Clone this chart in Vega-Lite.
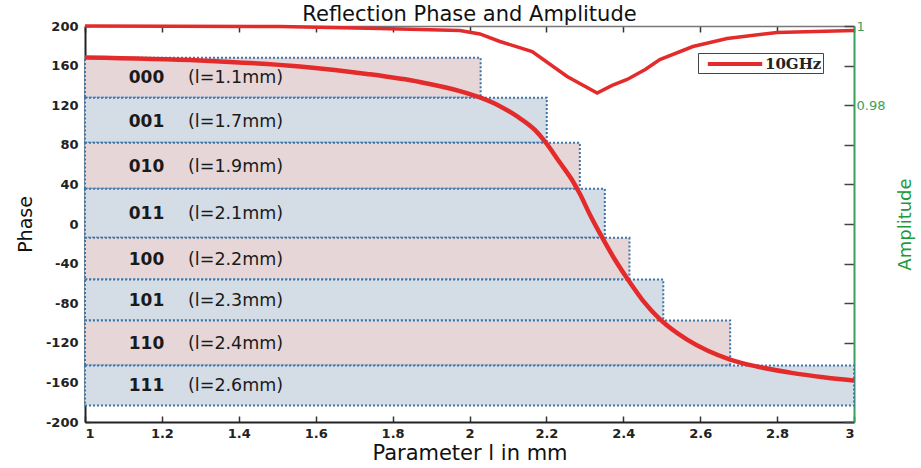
{
  "$schema": "https://vega.github.io/schema/vega-lite/v6.json",
  "width": 769,
  "height": 396,
  "autosize": {"type": "none"},
  "padding": {"left": 85, "top": 26, "right": 67, "bottom": 46},
  "background": "white",
  "title": {"text": "Reflection Phase and Amplitude", "font": "DejaVu Sans", "fontSize": 21, "fontWeight": "normal", "color": "#111", "anchor": "middle", "offset": -6},
  "config": {"view": {"stroke": null}, "font": "DejaVu Sans", "axis": {"labelOverlap": false, "labelBound": false}},
  "datasets": {
    "bands": [
      {"code": "000", "length": "(l=1.1mm)", "xmin": 1, "xmax": 2.029, "lo": 127.5, "hi": 167.9, "mid": 147, "tone": "pink"},
      {"code": "001", "length": "(l=1.7mm)", "xmin": 1, "xmax": 2.201, "lo": 82.0, "hi": 127.5, "mid": 103.5, "tone": "blue"},
      {"code": "010", "length": "(l=1.9mm)", "xmin": 1, "xmax": 2.287, "lo": 35.6, "hi": 82.0, "mid": 58, "tone": "pink"},
      {"code": "011", "length": "(l=2.1mm)", "xmin": 1, "xmax": 2.352, "lo": -14.0, "hi": 35.6, "mid": 10, "tone": "blue"},
      {"code": "100", "length": "(l=2.2mm)", "xmin": 1, "xmax": 2.416, "lo": -56.1, "hi": -14.0, "mid": -36, "tone": "pink"},
      {"code": "101", "length": "(l=2.3mm)", "xmin": 1, "xmax": 2.504, "lo": -97.5, "hi": -56.1, "mid": -77.5, "tone": "blue"},
      {"code": "110", "length": "(l=2.4mm)", "xmin": 1, "xmax": 2.678, "lo": -143.0, "hi": -97.5, "mid": -121, "tone": "pink"},
      {"code": "111", "length": "(l=2.6mm)", "xmin": 1, "xmax": 3.0, "lo": -183.4, "hi": -143.0, "mid": -163.5, "tone": "blue"}
    ],
    "phase": [
      {"l": 1.000, "phase": 168.2, "series": "10GHz"},
      {"l": 1.299, "phase": 165.2, "series": "10GHz"},
      {"l": 1.559, "phase": 159.1, "series": "10GHz"},
      {"l": 1.733, "phase": 151.6, "series": "10GHz"},
      {"l": 1.871, "phase": 143.4, "series": "10GHz"},
      {"l": 1.975, "phase": 134.3, "series": "10GHz"},
      {"l": 2.027, "phase": 127.8, "series": "10GHz"},
      {"l": 2.079, "phase": 119.0, "series": "10GHz"},
      {"l": 2.124, "phase": 108.6, "series": "10GHz"},
      {"l": 2.170, "phase": 95.0, "series": "10GHz"},
      {"l": 2.196, "phase": 83.5, "series": "10GHz"},
      {"l": 2.235, "phase": 62.1, "series": "10GHz"},
      {"l": 2.266, "phase": 44.9, "series": "10GHz"},
      {"l": 2.287, "phase": 30.5, "series": "10GHz"},
      {"l": 2.313, "phase": 9.6, "series": "10GHz"},
      {"l": 2.345, "phase": -13.6, "series": "10GHz"},
      {"l": 2.378, "phase": -35.9, "series": "10GHz"},
      {"l": 2.412, "phase": -56.1, "series": "10GHz"},
      {"l": 2.451, "phase": -77.3, "series": "10GHz"},
      {"l": 2.495, "phase": -96.0, "series": "10GHz"},
      {"l": 2.566, "phase": -116.7, "series": "10GHz"},
      {"l": 2.620, "phase": -128.0, "series": "10GHz"},
      {"l": 2.678, "phase": -136.9, "series": "10GHz"},
      {"l": 2.748, "phase": -144.0, "series": "10GHz"},
      {"l": 2.834, "phase": -150.1, "series": "10GHz"},
      {"l": 2.920, "phase": -154.8, "series": "10GHz"},
      {"l": 3.000, "phase": -158.2, "series": "10GHz"}
    ],
    "amp": [
      {"l": 1.000, "amp": 1.0},
      {"l": 1.507, "amp": 0.99987},
      {"l": 1.767, "amp": 0.99937},
      {"l": 1.975, "amp": 0.99886},
      {"l": 2.027, "amp": 0.99800},
      {"l": 2.079, "amp": 0.99609},
      {"l": 2.163, "amp": 0.99356},
      {"l": 2.254, "amp": 0.98725},
      {"l": 2.332, "amp": 0.98308},
      {"l": 2.371, "amp": 0.98500},
      {"l": 2.410, "amp": 0.98650},
      {"l": 2.457, "amp": 0.98900},
      {"l": 2.495, "amp": 0.99154},
      {"l": 2.581, "amp": 0.99482},
      {"l": 2.670, "amp": 0.99684},
      {"l": 2.800, "amp": 0.99836},
      {"l": 3.000, "amp": 0.99886}
    ]
  },
  "layer": [
    {
      "layer": [
        {
          "data": {"name": "bands"},
          "mark": {"type": "rect", "stroke": "#3d76a9", "strokeWidth": 2, "strokeDash": [2, 2]},
          "encoding": {
            "x": {"field": "xmin", "type": "quantitative", "scale": {"domain": [1, 3], "nice": false, "zero": false},
              "axis": {"orient": "bottom", "values": [1, 1.2, 1.4, 1.6, 1.8, 2, 2.2, 2.4, 2.6, 2.8, 3], "tickCount": 30, "format": "~g", "grid": false,
                "domainColor": "#222", "domainWidth": 2, "tickColor": "#333", "tickWidth": 1.5, "tickSize": -6, "labelPadding": 11,
                "labelFont": "DejaVu Sans", "labelFontWeight": "bold", "labelFontSize": 13, "labelColor": "#222",
                "title": "Parameter l in mm", "titleFont": "DejaVu Sans", "titleFontSize": 21, "titleFontWeight": "normal", "titleColor": "#111", "titlePadding": 2}},
            "x2": {"field": "xmax"},
            "y": {"field": "lo", "type": "quantitative", "scale": {"domain": [-200, 200], "nice": false},
              "axis": {"orient": "left", "values": [-200, -160, -120, -80, -40, 0, 40, 80, 120, 160, 200], "tickCount": 30, "grid": false,
                "labelExpr": "toString(datum.value)",
                "domainColor": "#222", "domainWidth": 2, "tickColor": "#333", "tickWidth": 1.5, "tickSize": -5, "labelPadding": 12,
                "labelFont": "DejaVu Sans", "labelFontWeight": "bold", "labelFontSize": 13, "labelColor": "#222",
                "title": "Phase", "titleFont": "DejaVu Sans", "titleFontSize": 19, "titleFontWeight": "normal", "titleColor": "#111", "titlePadding": 10}},
            "y2": {"field": "hi"},
            "fill": {"field": "tone", "type": "nominal", "scale": {"domain": ["pink", "blue"], "range": ["#e6d6d8", "#d4dce6"]}, "legend": null}
          }
        },
        {
          "data": {"name": "bands"},
          "mark": {"type": "text", "font": "DejaVu Sans", "fontWeight": "bold", "fontSize": 17, "align": "center", "baseline": "middle", "color": "#1a1a1a"},
          "encoding": {
            "x": {"datum": 1.16, "type": "quantitative"},
            "y": {"field": "mid", "type": "quantitative"},
            "text": {"field": "code"}
          }
        },
        {
          "data": {"name": "bands"},
          "mark": {"type": "text", "font": "DejaVu Sans", "fontSize": 17.5, "align": "left", "baseline": "middle", "color": "#1a1a1a"},
          "encoding": {
            "x": {"datum": 1.268, "type": "quantitative"},
            "y": {"field": "mid", "type": "quantitative"},
            "text": {"field": "length"}
          }
        },
        {
          "data": {"name": "phase"},
          "mark": {"type": "line", "strokeWidth": 4.5, "interpolate": "monotone"},
          "encoding": {
            "x": {"field": "l", "type": "quantitative"},
            "y": {"field": "phase", "type": "quantitative"},
            "color": {"field": "series", "type": "nominal", "scale": {"domain": ["10GHz"], "range": ["#e42b2b"]},
              "legend": {"orient": "none", "legendX": 613, "legendY": 27, "title": null, "symbolType": "M-3.4,0H3.4", "symbolSize": 256, "symbolStrokeWidth": 4,
                "symbolOffset": 26, "labelOffset": 20,
                "labelFont": "DejaVu Serif", "labelFontWeight": "bold", "labelFontSize": 15, "labelColor": "#222",
                "strokeColor": "#444", "fillColor": "white", "padding": 1}}
          }
        }
      ]
    },
    {
      "data": {"name": "amp"},
      "mark": {"type": "line", "strokeWidth": 3.5, "color": "#e42b2b"},
      "encoding": {
        "x": {"field": "l", "type": "quantitative",
          "axis": {"orient": "top", "values": [1, 1.2, 1.4, 1.6, 1.8, 2, 2.2, 2.4, 2.6, 2.8, 3], "tickCount": 30, "labels": false, "grid": false, "title": null,
            "domainColor": "#777", "domainWidth": 1.5, "tickColor": "#333", "tickWidth": 1.5, "tickSize": -6}},
        "y": {"field": "amp", "type": "quantitative", "scale": {"domain": [0.9, 1], "nice": false, "zero": false},
          "axis": {"orient": "right", "values": [0.9, 0.91, 0.92, 0.93, 0.94, 0.95, 0.96, 0.97, 0.98, 0.99, 1], "tickCount": 30, "grid": false,
            "labelExpr": "datum.value == 1 ? '1' : (abs(datum.value - 0.98) < 0.0001 ? '0.98' : '')",
            "domainColor": "#3a9f5c", "domainWidth": 2, "tickColor": "#444", "tickWidth": 1.5, "tickSize": -10, "labelPadding": 12,
            "labelFont": "DejaVu Sans", "labelFontSize": 13, "labelColor": "#3a9f5c",
            "title": "Amplitude", "titleAngle": 270, "titleFont": "DejaVu Sans", "titleFontSize": 18, "titleFontWeight": "normal", "titleColor": "#1e9a3c", "titlePadding": 30}}
      }
    }
  ],
  "resolve": {"scale": {"y": "independent"}, "axis": {"x": "independent", "y": "independent"}}
}
